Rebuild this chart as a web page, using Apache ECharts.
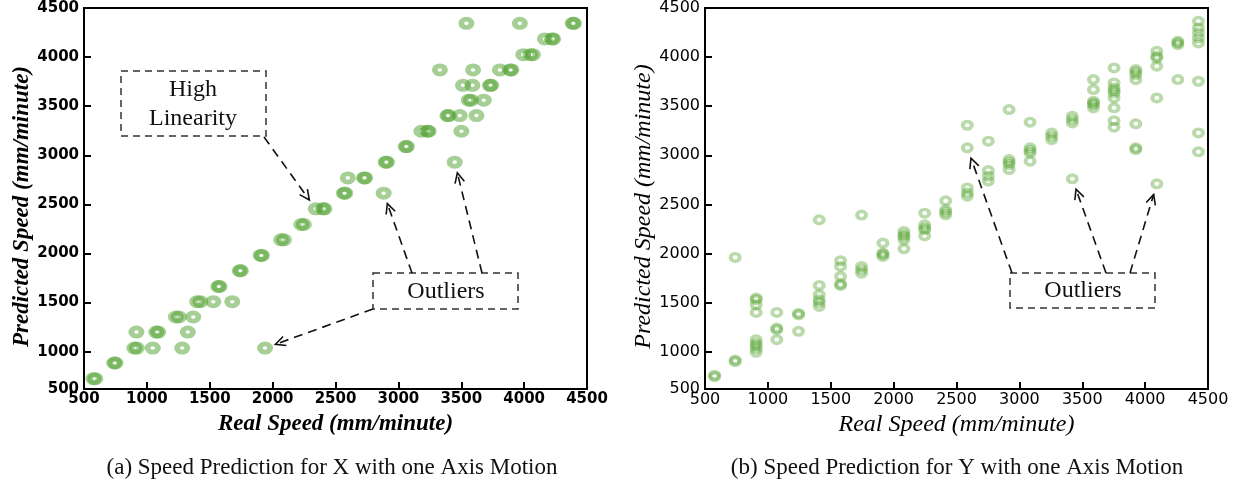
<!DOCTYPE html>
<html>
<head>
<meta charset="utf-8">
<script src="https://cdn.jsdelivr.net/npm/echarts@6/dist/echarts.min.js"></script>
<style>
html, body { margin: 0; padding: 0; background: #fff; }
#chart { width: 1233px; height: 487px; }
</style>
</head>
<body>
<div id="chart"></div>
<script>
// (a) X with one axis motion: real speed / predicted speed (mm/minute)
const realA = [575, 590, 740, 750, 900, 920, 1047, 1281, 1940, 917, 1075, 1090, 1326, 1230, 1255, 1369,
  1400, 1425, 1528, 1679, 1568, 1578, 1738, 1748, 1905, 1915, 2068, 2090, 2228, 2248, 2343, 2400, 2412,
  2567, 2577, 2883, 2598, 2726, 2736, 2899, 2909, 3448, 3058, 3068, 3183, 3231, 3241, 3501, 3390, 3400,
  3488, 3621, 3560, 3578, 3679, 3514, 3589, 3728, 3738, 3330, 3594, 3807, 3889, 3899, 3993, 4050, 4070,
  4165, 4221, 4231, 3541, 3966, 4386, 4396]
const predA = [725, 725, 885, 885, 1037, 1037, 1037, 1037, 1037, 1200, 1200, 1200, 1200, 1353, 1353, 1353,
  1509, 1509, 1509, 1509, 1664, 1664, 1824, 1824, 1980, 1980, 2139, 2139, 2295, 2295, 2455, 2455, 2455,
  2614, 2614, 2614, 2770, 2770, 2770, 2930, 2930, 2930, 3089, 3089, 3245, 3245, 3245, 3245, 3404, 3404,
  3404, 3404, 3561, 3561, 3561, 3713, 3713, 3713, 3713, 3869, 3869, 3869, 3869, 3869, 4025, 4025, 4025,
  4185, 4185, 4185, 4344, 4344, 4344, 4344]

// (b) Y with one axis motion
const realB = [576, 576, 740, 740, 740, 907, 907, 907, 907, 907, 907, 907, 907, 907,
  1071, 1071, 1071, 1071, 1244, 1244, 1244, 1408, 1408, 1408, 1408, 1408, 1408,
  1578, 1578, 1578, 1578, 1578, 1745, 1745, 1745, 1745, 1915, 1915, 1915, 1915,
  2082, 2082, 2082, 2082, 2082, 2247, 2247, 2247, 2247, 2247, 2414, 2414, 2414, 2414,
  2586, 2586, 2586, 2586, 2586, 2753, 2753, 2753, 2753, 2918, 2918, 2918, 2918, 2918,
  3085, 3085, 3085, 3085, 3085, 3257, 3257, 3257, 3421, 3421, 3421, 3421,
  3589, 3589, 3589, 3589, 3589, 3589, 3753, 3753, 3753, 3753, 3753, 3753, 3753, 3753, 3753,
  3926, 3926, 3926, 3926, 3926, 3926, 3926, 4093, 4093, 4093, 4093, 4093, 4093,
  4260, 4260, 4260, 4260, 4424, 4424, 4424, 4424, 4424, 4424, 4424, 4424]
const predB = [745, 760, 900, 915, 1960, 1546, 1530, 1478, 1400, 1122, 1085, 1061, 1030, 993,
  1400, 1224, 1240, 1122, 1376, 1390, 1207, 2343, 1675, 1580, 1529, 1500, 1461,
  1926, 1868, 1766, 1675, 1690, 2391, 1868, 1834, 1800, 2106, 2004, 1990, 1970,
  2224, 2190, 2173, 2139, 2048, 2411, 2292, 2260, 2241, 2180, 2536, 2445, 2420, 2394,
  3306, 3076, 2668, 2617, 2584, 3144, 2845, 2787, 2737, 3466, 2957, 2930, 2906, 2855,
  3337, 3076, 3050, 3025, 2940, 3228, 3194, 3160, 3398, 3364, 3330, 2760,
  3771, 3669, 3551, 3530, 3517, 3483, 3890, 3737, 3686, 3660, 3635, 3584, 3483, 3353, 3286,
  3873, 3850, 3822, 3771, 3320, 3076, 3058, 4059, 4009, 3990, 3907, 3584, 2709,
  4161, 4145, 4127, 3771, 4364, 4297, 4246, 4195, 4144, 3754, 3228, 3035]

const xTickValues = [1000, 1500, 2000, 2500, 3000, 3500, 4000]
const yTickValues = [620, 1000, 1500, 2000, 2500, 3000, 3500, 4000, 4500]
const yTickLabels = ['500', '1000', '1500', '2000', '2500', '3000', '3500', '4000', '4500']
const captions = ['(a) Speed Prediction for X with one Axis Motion', '(b) Speed Prediction for Y with one Axis Motion']

const ec = echarts.init(document.getElementById('chart'))

// ring marker: outer circle clockwise, inner hole counter-clockwise
const ring = (h) => 'path://M0,-10A10,10 0 1,1 0,10A10,10 0 1,1 0,-10Z' +
  'M0,-' + h + 'A' + h + ',' + h + ' 0 1,0 0,' + h + 'A' + h + ',' + h + ' 0 1,0 0,-' + h + 'Z'

function xAxis (i, bold) {
  return {
    gridIndex: i, type: 'value', min: 500, max: 4500, interval: 500,
    axisLine: { lineStyle: { color: '#000', width: 2 } },
    axisTick: { inside: true, length: 7, customValues: xTickValues, lineStyle: { color: '#000', width: 2 } },
    axisLabel: { color: '#000', fontFamily: 'DejaVu Sans', fontSize: bold ? 15 : 16, fontWeight: bold ? 'bold' : 'normal', margin: 3, hideOverlap: false, formatter: v => String(v) },
    splitLine: { show: false },
    name: 'Real Speed (mm/minute)', nameLocation: 'middle', nameGap: 24,
    nameTextStyle: { color: '#000', fontFamily: 'Liberation Serif', fontStyle: 'italic', fontWeight: bold ? 'bold' : 'normal', fontSize: bold ? 23 : 24 }
  }
}
function yAxis (i, bold) {
  return {
    gridIndex: i, type: 'value', min: 620, max: 4500,
    axisLine: { lineStyle: { color: '#000', width: 2 } },
    axisTick: { inside: true, length: 7, customValues: xTickValues, lineStyle: { color: '#000', width: 2 } },
    axisLabel: {
      color: '#000', fontFamily: 'DejaVu Sans', fontSize: bold ? 15 : 16, fontWeight: bold ? 'bold' : 'normal', margin: 5,
      customValues: yTickValues, formatter: v => yTickLabels[yTickValues.indexOf(v)]
    },
    splitLine: { show: false },
    name: 'Predicted Speed (mm/minute)', nameLocation: 'middle', nameGap: bold ? 50 : 48, nameRotate: 90,
    nameTextStyle: { color: '#000', fontFamily: 'Liberation Serif', fontStyle: 'italic', fontWeight: bold ? 'bold' : 'normal', fontSize: bold ? 23 : 24, padding: [0, 16, 0, 0] }
  }
}

ec.setOption({
  animation: false,
  grid: [
    { left: 84, top: 8, width: 503, height: 381, show: true, borderColor: '#000', borderWidth: 2 },
    { left: 705, top: 8, width: 503, height: 381, show: true, borderColor: '#000', borderWidth: 2 }
  ],
  xAxis: [xAxis(0, true), xAxis(1, false)],
  yAxis: [yAxis(0, true), yAxis(1, false)],
  series: [
    {
      type: 'scatter', xAxisIndex: 0, yAxisIndex: 0, silent: true,
      symbol: ring(2.8), symbolSize: [16, 13],
      itemStyle: { color: 'rgba(74,158,42,0.62)' },
      data: realA.map((v, k) => [v, predA[k]])
    },
    {
      type: 'scatter', xAxisIndex: 1, yAxisIndex: 1, silent: true,
      symbol: ring(3.8), symbolSize: [13, 11],
      itemStyle: { color: 'rgba(88,166,54,0.52)' },
      data: realB.map((v, k) => [v, predB[k]])
    }
  ]
})

// annotations: dashed boxes with text, dashed arrows to points
const dash = { stroke: '#333', lineWidth: 1.5, lineDash: [7, 5], fill: 'none' }
const graphic = [
  { type: 'rect', shape: { x: 121, y: 71, width: 145, height: 65 }, style: dash },
  { type: 'text', x: 193, y: 104, style: { text: 'High\nLinearity', font: '24px "Liberation Serif"', lineHeight: 29, fill: '#111', align: 'center', verticalAlign: 'middle' } },
  { type: 'rect', shape: { x: 373, y: 273, width: 145, height: 36 }, style: dash },
  { type: 'text', x: 446, y: 292, style: { text: 'Outliers', font: '24px "Liberation Serif"', fill: '#111', align: 'center', verticalAlign: 'middle' } },
  { type: 'rect', shape: { x: 1010, y: 273, width: 145, height: 35 }, style: dash },
  { type: 'text', x: 1083, y: 291, style: { text: 'Outliers', font: '24px "Liberation Serif"', fill: '#111', align: 'center', verticalAlign: 'middle' } }
]
captions.forEach((t, i) => {
  graphic.push({ type: 'text', x: i ? 957 : 332, y: 468, style: { text: t, font: '23px "Liberation Serif"', fill: '#111', align: 'center', verticalAlign: 'middle' } })
})

const arrows = [
  [0, [264, 137], [2343, 2455]],
  [0, [373, 309], [1940, 1037]],
  [0, [412, 273], [2883, 2614]],
  [0, [482, 273], [3448, 2930]],
  [1, [1012, 273], [2586, 3076]],
  [1, [1106, 273], [3421, 2760]],
  [1, [1130, 273], [4093, 2709]]
]
arrows.forEach(([g, from, target]) => {
  const p = ec.convertToPixel({ gridIndex: g }, target)
  const dx = p[0] - from[0], dy = p[1] - from[1]
  const len = Math.sqrt(dx * dx + dy * dy)
  const ux = dx / len, uy = dy / len
  const tip = [p[0] - ux * 11, p[1] - uy * 11]
  const a = Math.atan2(uy, ux), hl = 11, ha = 0.45
  const h1 = [tip[0] - hl * Math.cos(a - ha), tip[1] - hl * Math.sin(a - ha)]
  const h2 = [tip[0] - hl * Math.cos(a + ha), tip[1] - hl * Math.sin(a + ha)]
  graphic.push({ type: 'line', shape: { x1: from[0], y1: from[1], x2: tip[0], y2: tip[1] }, style: { stroke: '#111', lineWidth: 1.6, lineDash: [9, 6] } })
  graphic.push({ type: 'polyline', shape: { points: [h1, tip, h2] }, style: { stroke: '#111', lineWidth: 1.6, fill: 'none' } })
})

ec.setOption({ graphic })
</script>
</body>
</html>
